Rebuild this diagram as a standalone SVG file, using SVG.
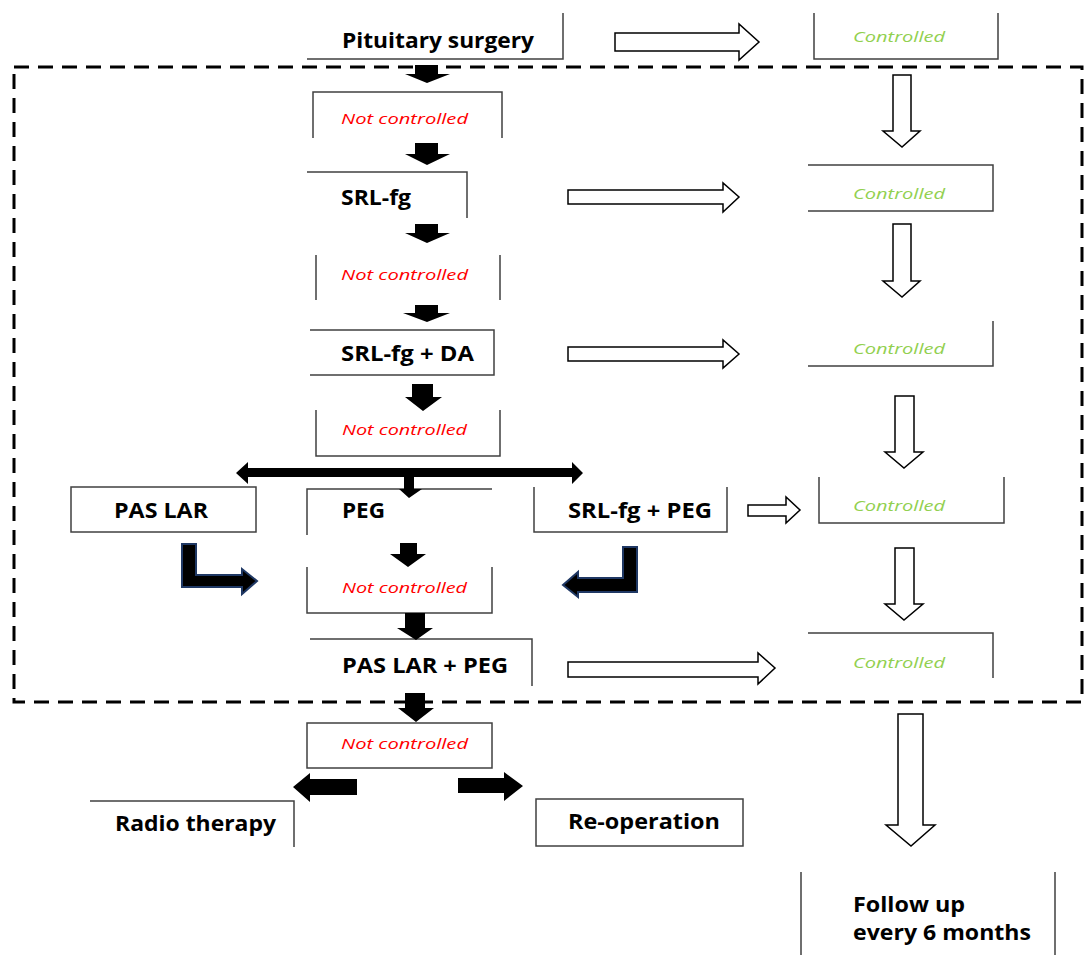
<svg xmlns="http://www.w3.org/2000/svg" width="1084" height="955" viewBox="0 0 1084 955">
<style>
.bx{fill:none;stroke:#404040;stroke-width:1.5}
.lb{font-family:"Open Sans","Liberation Sans",sans-serif;font-weight:bold;font-size:21px;fill:#000}
.nc{font-family:"Open Sans","Liberation Sans",sans-serif;font-style:italic;font-size:15px;fill:#FF0000}
.ok{font-family:"Open Sans","Liberation Sans",sans-serif;font-style:italic;font-size:15px;fill:#92D050}
.ba{fill:#000;stroke:none}
.wa{fill:#fff;stroke:#000;stroke-width:1.5;stroke-linejoin:miter}
.la{fill:#000;stroke:#1F3864;stroke-width:2}
.dash{fill:none;stroke:#000;stroke-width:3;stroke-dasharray:15 9}
</style>
<rect width="1084" height="955" fill="#fff"/>
<rect class="dash" x="14" y="67" width="1068" height="635"/>
<g id="n-pituitary"><path class="bx" d="M307 59 H563 V13"/><text class="lb" x="342" y="48" textLength="192" lengthAdjust="spacingAndGlyphs">Pituitary surgery</text></g>
<g id="n-c1"><path class="bx" d="M814 13 V59 H998 V13"/><text class="ok" x="853" y="42" textLength="92" lengthAdjust="spacingAndGlyphs">Controlled</text></g>
<g id="n-nc1"><path class="bx" d="M313 138 V92 H502 V138"/><text class="nc" x="341" y="124" textLength="127" lengthAdjust="spacingAndGlyphs">Not controlled</text></g>
<g id="n-srlfg"><path class="bx" d="M307 172 H467 V218"/><text class="lb" x="341" y="205" textLength="70" lengthAdjust="spacingAndGlyphs">SRL-fg</text></g>
<g id="n-c2"><path class="bx" d="M808 165 H993 V211 H808"/><text class="ok" x="853" y="199" textLength="92" lengthAdjust="spacingAndGlyphs">Controlled</text></g>
<g id="n-nc2"><path class="bx" d="M316 255 V300 M500 255 V300"/><text class="nc" x="341" y="280" textLength="127" lengthAdjust="spacingAndGlyphs">Not controlled</text></g>
<g id="n-srlda"><path class="bx" d="M310 330 H494 V375 H310"/><text class="lb" x="341" y="361" textLength="133" lengthAdjust="spacingAndGlyphs">SRL-fg + DA</text></g>
<g id="n-c3"><path class="bx" d="M808 366 H993 V321"/><text class="ok" x="853" y="354" textLength="92" lengthAdjust="spacingAndGlyphs">Controlled</text></g>
<g id="n-nc3"><path class="bx" d="M316 410 V456 H500 V410"/><text class="nc" x="342" y="435" textLength="125" lengthAdjust="spacingAndGlyphs">Not controlled</text></g>
<g id="n-paslar"><rect class="bx" x="71" y="487" width="185" height="45"/><text class="lb" x="114" y="518" textLength="94" lengthAdjust="spacingAndGlyphs">PAS LAR</text></g>
<g id="n-peg"><path class="bx" d="M307 535 V489 H492"/><text class="lb" x="342" y="518" textLength="43" lengthAdjust="spacingAndGlyphs">PEG</text></g>
<g id="n-srlpeg"><path class="bx" d="M534 487 V532 H727 V487"/><text class="lb" x="568" y="518" textLength="144" lengthAdjust="spacingAndGlyphs">SRL-fg + PEG</text></g>
<g id="n-c4"><path class="bx" d="M819 477 V523 H1004 V477"/><text class="ok" x="853" y="511" textLength="92" lengthAdjust="spacingAndGlyphs">Controlled</text></g>
<g id="n-nc4"><path class="bx" d="M307 567 V613 H492 V567"/><text class="nc" x="342" y="593" textLength="125" lengthAdjust="spacingAndGlyphs">Not controlled</text></g>
<g id="n-paslarpeg"><path class="bx" d="M310 639 H532 V686"/><text class="lb" x="342" y="673" textLength="166" lengthAdjust="spacingAndGlyphs">PAS LAR + PEG</text></g>
<g id="n-c5"><path class="bx" d="M808 633 H993 V678"/><text class="ok" x="853" y="668" textLength="92" lengthAdjust="spacingAndGlyphs">Controlled</text></g>
<g id="n-nc5"><rect class="bx" x="307" y="723" width="185" height="45"/><text class="nc" x="341" y="749" textLength="127" lengthAdjust="spacingAndGlyphs">Not controlled</text></g>
<g id="n-radio"><path class="bx" d="M90 801 H294 V847"/><text class="lb" x="115" y="831" textLength="161" lengthAdjust="spacingAndGlyphs">Radio therapy</text></g>
<g id="n-reop"><rect class="bx" x="536" y="799" width="207" height="47"/><text class="lb" x="568" y="829" textLength="152" lengthAdjust="spacingAndGlyphs">Re-operation</text></g>
<g id="n-follow"><path class="bx" d="M801 872 V955 M1055 872 V955"/><text class="lb" x="853" y="912" textLength="112" lengthAdjust="spacingAndGlyphs">Follow up</text><text class="lb" x="853" y="940" textLength="178" lengthAdjust="spacingAndGlyphs">every 6 months</text></g>
<g id="connectors">
<polygon class="ba" points="415,65 438,65 438,74 450,74 427,83 405,74 415,74"/>
<polygon class="ba" points="415,143 438,143 438,154 450,154 427,165 405,154 415,154"/>
<polygon class="ba" points="415,224 438,224 438,233 450,233 427,243 405,233 415,233"/>
<polygon class="ba" points="415,305 438,305 438,313 450,313 427,322 403,313 415,313"/>
<polygon class="ba" points="412,384 433,384 433,397 442,397 423,411 405,397 412,397"/>
<polygon class="ba" points="248,468 572,468 572,462 583,473 572,484 572,477 248,477 248,484 236,473 248,462"/>
<polygon class="ba" points="404,477 414,477 414,489 422,489 409,498 399,489 404,489"/>
<polygon class="ba" points="400,543 417,543 417,554 426,554 408,567 390,554 400,554"/>
<polygon class="ba" points="405,613 425,613 425,628 433,628 416,640 397,628 405,628"/>
<polygon class="ba" points="405,693 425,693 425,708 434,708 416,722 398,708 405,708"/>
<polygon class="ba" points="357,779 357,795 310,795 310,802 293,787 310,773 310,779"/>
<polygon class="ba" points="458,778 504,778 504,772 523,786 504,801 504,793 458,793"/>
<polygon class="la" points="182,544 196,544 196,575 242,575 242,569 257,581 242,594 242,587 182,587"/>
<polygon class="la" points="623,547 637,547 637,592 578,592 578,597 563,585 578,572 578,578 623,578"/>
<polygon class="wa" points="615,33 739,33 739,24 759,42 739,60 739,51 615,51"/>
<polygon class="wa" points="568,190 723,190 723,183 739,197 723,212 723,204 568,204"/>
<polygon class="wa" points="568,347 723,347 723,340 739,354 723,368 723,361 568,361"/>
<polygon class="wa" points="748,505 786,505 786,497 800,510 786,523 786,516 748,516"/>
<polygon class="wa" points="568,662 758,662 758,653 775,668 758,684 758,677 568,677"/>
<polygon class="wa" points="893,75 911,75 911,131 920,131 902,147 883,131 893,131"/>
<polygon class="wa" points="893,224 911,224 911,281 920,281 902,297 883,281 893,281"/>
<polygon class="wa" points="895,396 914,396 914,452 923,452 904,468 885,452 895,452"/>
<polygon class="wa" points="895,548 914,548 914,604 923,604 904,620 885,604 895,604"/>
<polygon class="wa" points="898,714 923,714 923,825 935,825 911,846 886,825 898,825"/>
</g>
</svg>
